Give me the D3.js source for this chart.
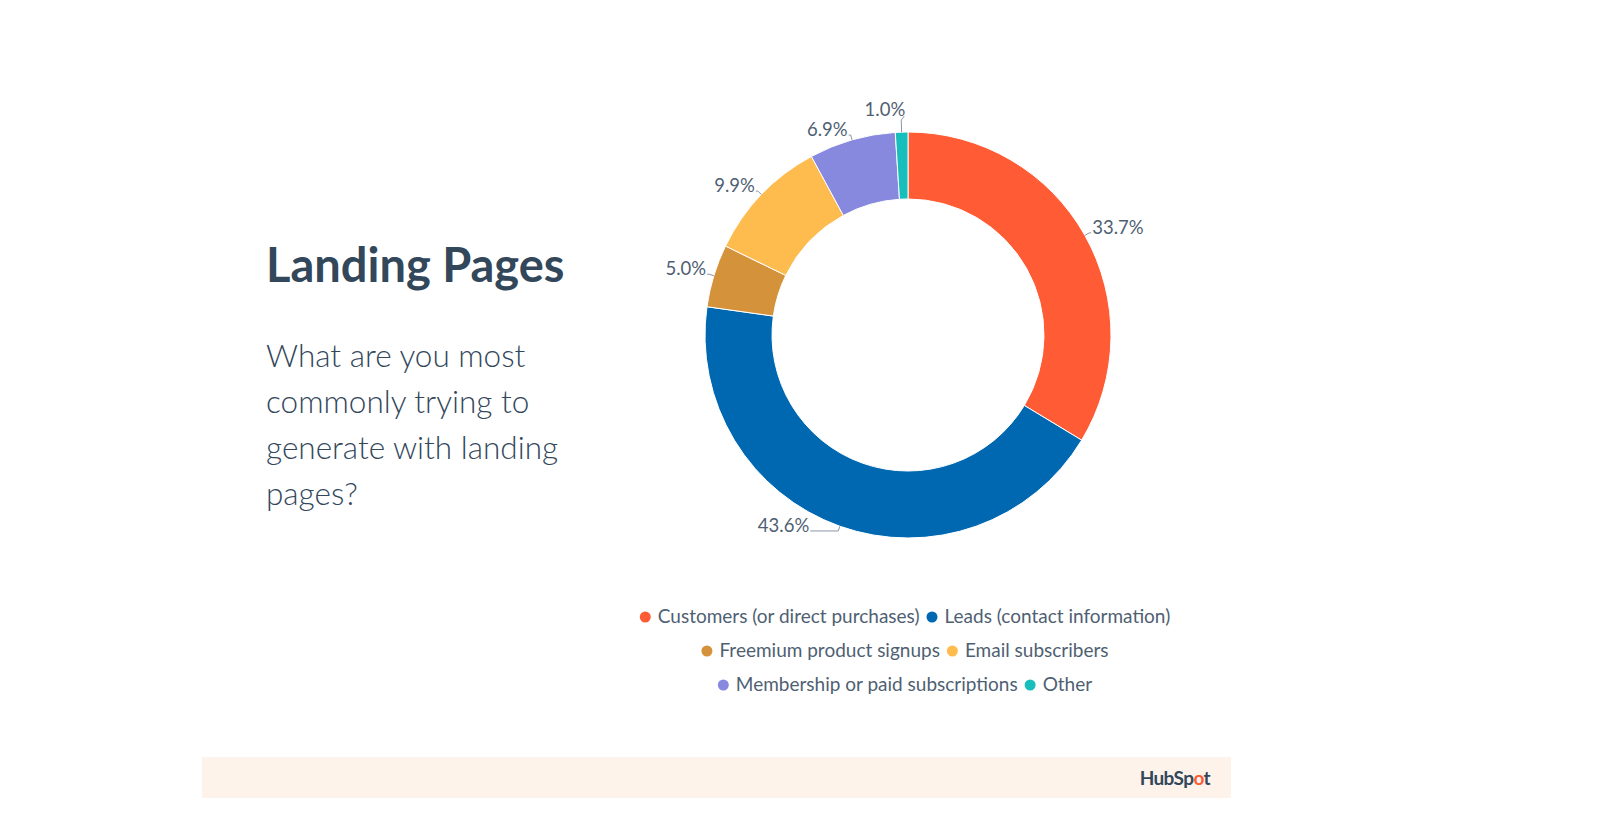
<!DOCTYPE html>
<html>
<head>
<meta charset="utf-8">
<script src="https://cdn.jsdelivr.net/npm/d3@7"></script>
<style>
  html, body { margin: 0; padding: 0; background: #fff; }
  svg { display: block; font-family: Lato, "Open Sans", sans-serif; }
</style>
</head>
<body>
<div id="chart"></div>
<script>
// data
var categories = ["Customers (or direct purchases)", "Leads (contact information)", "Freemium product signups",
                  "Email subscribers", "Membership or paid subscriptions", "Other"];
var values = [33.7, 43.6, 5.0, 9.9, 6.9, 1.0];
var colors = ["#FF5C35", "#0068B1", "#D4923A", "#FFBC4E", "#8689DD", "#17BEBB"];
var legendRows = [[0, 1], [2, 3], [4, 5]];
var titleText = "Landing Pages";
var questionLines = ["What are you most", "commonly trying to", "generate with landing", "pages?"];

var W = 1600, H = 827;
var cx = 908, cy = 335, rOuter = 203, rInner = 136;
var ink = "#33475B", labelInk = "#4F5F73";

var svg = d3.select("#chart").append("svg")
	.attr("width", W).attr("height", H)
	.attr("viewBox", "0 0 " + W + " " + H);

// left text block
svg.append("text")
	.attr("x", 266).attr("y", 282)
	.style("font-size", "47px").style("font-weight", 700).style("fill", ink)
	.text(titleText);

svg.selectAll(".q").data(questionLines).enter().append("text")
	.attr("class", "q")
	.attr("x", 266).attr("y", function(d, i){ return 367 + i * 46; })
	.style("font-size", "31.5px").style("font-weight", 300).style("fill", ink)
	.text(function(d){ return d; });

// donut
var pie = d3.pie().sort(null).value(function(d){ return d.v; });
var arcs = pie(values.map(function(v, i){ return {v: v, i: i}; }));
var arc = d3.arc().innerRadius(rInner).outerRadius(rOuter);

var g = svg.append("g").attr("transform", "translate(" + cx + "," + cy + ")");

g.selectAll(".slice").data(arcs).enter().append("path")
	.attr("class", "slice")
	.attr("d", arc)
	.style("fill", function(d){ return colors[d.data.i]; })
	.style("stroke", "#fff").style("stroke-width", 1);

// leader lines + labels
function pt(a, r){ return [r * Math.sin(a), -r * Math.cos(a)]; }

arcs.forEach(function(d){
	var a = (d.startAngle + d.endAngle) / 2;
	var s = Math.sin(a), c = Math.cos(a);
	var p0 = pt(a, rOuter), p1, p2, tx, ty, anchor;
	if (Math.abs(s) < 0.2) {
		// near the top: short upward line, text just above its end
		p1 = pt(a, rOuter + 12);
		p2 = [p1[0] + 3, p1[1] - 4];
		tx = p2[0] + 1; ty = p2[1]; anchor = "end";
	} else {
		p1 = pt(a, rOuter + 5);
		var dir = s > 0 ? 1 : -1;
		var len2 = c < -0.5 ? 28 : 2;   // bottom labels pushed further out
		p2 = [p1[0] + dir * len2, p1[1]];
		tx = p2[0] + dir * 1; ty = p2[1] + 1; anchor = s > 0 ? "start" : "end";
	}
	g.append("polyline")
		.attr("points", [p0, p1, p2].map(function(p){ return p.join(","); }).join(" "))
		.style("fill", "none").style("stroke", "#8a96a3").style("stroke-width", 1);
	g.append("text")
		.attr("x", tx).attr("y", ty)
		.attr("text-anchor", anchor)
		.style("font-size", "18.5px").style("fill", labelInk)
		.text(d3.format(".1f")(d.data.v) + "%");
});

// legend, rows centred under the donut
var legY = [616, 650, 684];
legendRows.forEach(function(row, ri){
	var lg = svg.append("g");
	var x = 0;
	row.forEach(function(idx){
		lg.append("circle").attr("cx", x + 5.5).attr("cy", 1).attr("r", 5.5)
			.style("fill", colors[idx]);
		var t = lg.append("text").attr("x", x + 18).attr("y", 7)
			.style("font-size", "19px").style("fill", labelInk)
			.text(categories[idx]);
		x += 18 + t.node().getComputedTextLength() + 7;
	});
	var w = x - 7;
	lg.attr("transform", "translate(" + (905 - w / 2) + "," + legY[ri] + ")");
});

// footer band
svg.append("rect")
	.attr("x", 202).attr("y", 757).attr("width", 1029).attr("height", 41)
	.style("fill", "#FDF3EB");

var logo = svg.append("text")
	.attr("x", 1210).attr("y", 785)
	.attr("text-anchor", "end")
	.style("font-size", "19px").style("font-weight", 700).style("fill", ink)
	.style("letter-spacing", "-0.6px");
logo.append("tspan").text("HubSp");
logo.append("tspan").style("fill", "#FF5C35").text("o");
logo.append("tspan").text("t");
</script>
</body>
</html>
